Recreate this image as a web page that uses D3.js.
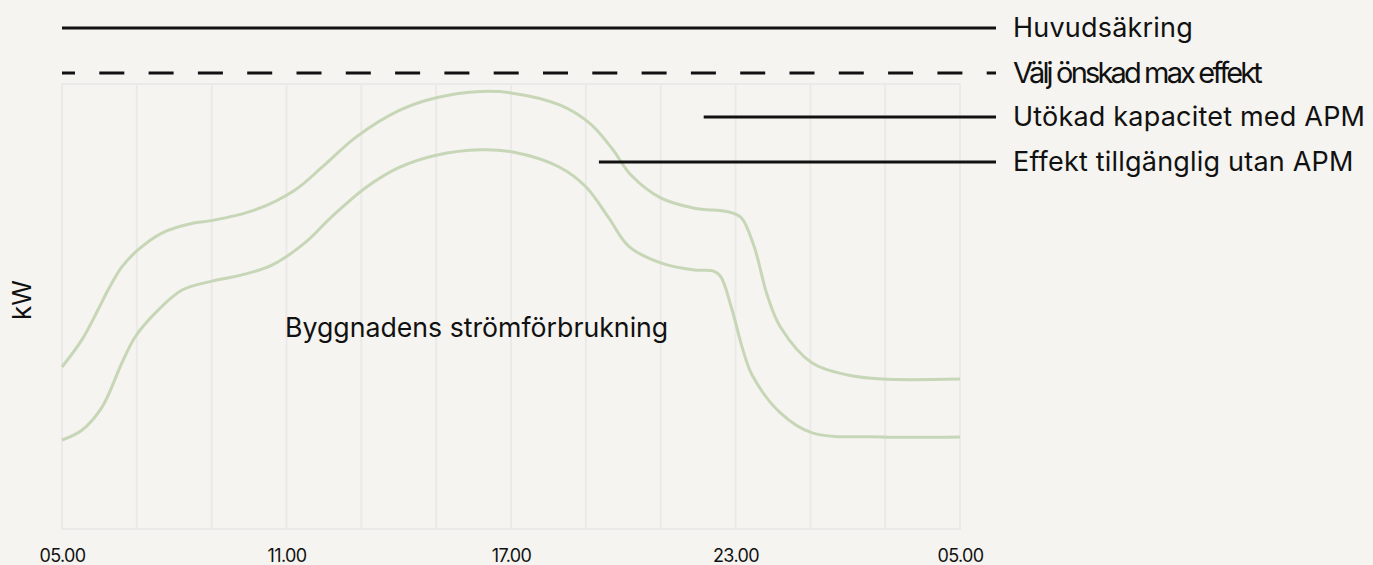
<!DOCTYPE html>
<html>
<head>
<meta charset="utf-8">
<script src="https://cdn.jsdelivr.net/npm/d3@7"></script>
<style>
  body { margin: 0; background: #f5f4f0; }
  svg { display: block; font-family: Inter, "Noto Sans", sans-serif; }
  text { fill: #111; }
</style>
</head>
<body>
<script>
// hours after 05.00, kW (arbitrary units)
var withApm = [[0, 36.4], [0.53, 42.5], [0.96, 49.2], [1.23, 53.7], [1.6, 58.9], [2.03, 62.7],
  [2.67, 66.5], [3.55, 68.8], [4.0, 69.3], [5.16, 71.7], [6.23, 76.2], [6.95, 81.3], [7.85, 88.0],
  [9.0, 94.0], [10.0, 96.9], [11.2, 98.3], [12.0, 98.0], [13.3, 95.3], [14.1, 91.2], [14.7, 85.5],
  [15.2, 79.6], [16.0, 74.4], [16.9, 72.1], [17.8, 71.3], [18.15, 70.0], [18.5, 63.4],
  [18.85, 52.5], [19.2, 45.4], [20.05, 37.3], [21.0, 34.6], [21.9, 33.7], [24, 33.7]];

var withoutApm = [[0, 20.0], [0.53, 22.2], [1.07, 27.4], [1.6, 37.3], [1.95, 43.1], [2.49, 48.5],
  [3.21, 53.7], [4.01, 55.7], [4.81, 57.1], [5.61, 59.3], [6.49, 64.3], [7.2, 70.1], [8.15, 76.9],
  [9.0, 81.2], [10.0, 84.0], [11.2, 85.2], [12.05, 84.7], [13.3, 81.3], [14.0, 76.9], [14.6, 70.1],
  [15.15, 63.5], [16.0, 59.8], [16.9, 58.2], [17.4, 58.0], [17.6, 56.8], [17.9, 49.5],
  [18.2, 40.2], [18.45, 34.5], [19.2, 26.1], [20.05, 21.6], [21.9, 20.7], [24, 20.7]];

var tickHours = [0, 6, 12, 18, 24];
var tickLabels = ["05.00", "11.00", "17.00", "23.00", "05.00"];

// reference levels (kW) and where their legend line starts (hours)
var levelNames = ["Huvudsäkring", "Välj önskad max effekt", "Utökad kapacitet med APM", "Effekt tillgänglig utan APM"];
var levelValues = [112.6, 102.5, 92.6, 82.5];
var levelStart = [0, 0, 17.15, 14.35];

var w = 1373, h = 565;

var svg = d3.select("body").append("svg")
    .attr("width", w)
    .attr("height", h);

var x = d3.scaleLinear().domain([0, 24]).range([62, 960]);
var y = d3.scaleLinear().domain([0, 100]).range([529, 84]);
var lineEnd = 996;

// grid box
var grid = svg.append("g").attr("stroke", "#ebeae8").attr("stroke-width", 2);
grid.selectAll("line.v")
    .data(d3.range(0, 25, 2))
  .enter().append("line")
    .attr("x1", function(d) { return x(d); })
    .attr("x2", function(d) { return x(d); })
    .attr("y1", y(100))
    .attr("y2", y(0));
grid.selectAll("line.h")
    .data([0, 100])
  .enter().append("line")
    .attr("x1", x(0) - 1)
    .attr("x2", x(24) + 1)
    .attr("y1", function(d) { return y(d); })
    .attr("y2", function(d) { return y(d); });

// consumption curves
var line = d3.line()
    .x(function(d) { return x(d[0]); })
    .y(function(d) { return y(d[1]); })
    .curve(d3.curveCatmullRom.alpha(0.5));

svg.selectAll("path.curve")
    .data([withApm, withoutApm])
  .enter().append("path")
    .attr("class", "curve")
    .attr("fill", "none")
    .attr("stroke", "#c6d6b6")
    .attr("stroke-width", 3)
    .attr("d", line);

// reference lines + labels
var levels = svg.append("g").selectAll("g")
    .data(levelValues)
  .enter().append("g");

levels.append("line")
    .attr("x1", function(d, i) { return x(levelStart[i]); })
    .attr("x2", lineEnd)
    .attr("y1", function(d) { return y(d); })
    .attr("y2", function(d) { return y(d); })
    .attr("stroke", "#111")
    .attr("stroke-width", 3)
    .attr("stroke-dasharray", function(d, i) { return i == 1 ? "25 24.3" : null; })
    .attr("stroke-dashoffset", function(d, i) { return i == 1 ? 12 : null; });

levels.append("text")
    .attr("x", 1013)
    .attr("y", function(d, i) { return y(d) + (i == 1 ? 10 : 9.5); })
    .attr("font-size", function(d, i) { return i == 1 ? 29 : 27; })
    .attr("letter-spacing", function(d, i) { return i == 1 ? -2.85 : 0.2; })
    .text(function(d, i) { return levelNames[i]; });

// x axis
var axis = svg.append("g")
    .attr("transform", "translate(0,548)")
    .call(d3.axisBottom(x)
      .tickValues(tickHours)
      .tickSize(0)
      .tickFormat(function(d, i) { return tickLabels[i]; }));
axis.select(".domain").remove();
axis.selectAll("text")
    .attr("font-family", "Inter, sans-serif")
    .attr("font-size", 18)
    .attr("letter-spacing", -0.6)
    .attr("dy", 0)
    .attr("y", 14)
    .style("fill", "#111");

// y label
svg.append("text")
    .attr("transform", "translate(31,300) rotate(-90)")
    .attr("text-anchor", "middle")
    .attr("font-size", 26)
    .text("kW");

svg.append("text")
    .attr("x", 285)
    .attr("y", 337)
    .attr("font-size", 26.7)
    .text("Byggnadens strömförbrukning");
</script>
</body>
</html>
